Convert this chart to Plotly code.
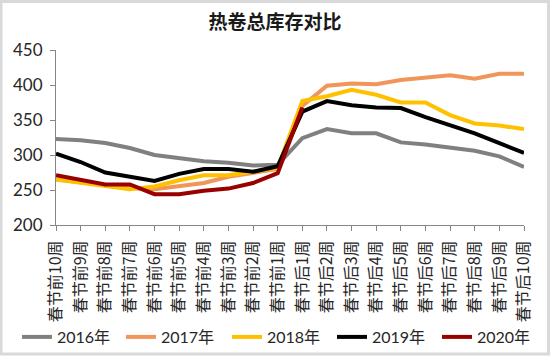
import plotly.graph_objects as go

categories = [f"春节前{i}周" for i in range(10, 0, -1)] + [f"春节后{i}周" for i in range(1, 11)]

s2016 = [323, 321, 317, 310, 300, 295, 291, 289, 285, 286, 324, 337, 331, 331, 318, 315, 310, 306, 298, 283]
s2017 = [265, 261, 257, 253, 251, 256, 260, 269, 275, 280, 370, 399, 402, 401, 407, 410, 414, 409, 416, 416]
s2018 = [265, 260, 256, 251, 255, 264, 271, 271, 276, 282, 377, 384, 393, 386, 375, 375, 357, 345, 342, 337]
s2019 = [302, 290, 275, 269, 263, 273, 280, 280, 276, 284, 362, 377, 371, 368, 367, 354, 343, 331, 317, 303]
s2020 = [271, 264, 258, 258, 244, 244, 249, 252, 260, 274, 368]

series = [
    ("2016年", s2016, "#808080"),
    ("2017年", s2017, "#F0965A"),
    ("2018年", s2018, "#FFC000"),
    ("2019年", s2019, "#000000"),
    ("2020年", s2020, "#990000"),
]

yticks = [200, 250, 300, 350, 400, 450]

FONT = "Lato, Noto Sans CJK SC, sans-serif"
TXT = "#262626"

W, H = 550, 356
L, R, T, B = 56, 26, 50, 131
pw, ph = W - L - R, H - T - B

legend_line_x = [22, 126, 232, 337, 442]
legend_y = 337

fig = go.Figure()
legends = {}
for i, (name, vals, color) in enumerate(series):
    lid = "legend" if i == 0 else f"legend{i + 1}"
    fig.add_trace(go.Scatter(
        x=categories[:len(vals)], y=vals, name=name, mode="lines",
        line=dict(color=color, width=4), legend=lid,
    ))
    legends[lid] = dict(
        orientation="h", xref="container", x=(legend_line_x[i] - 5) / W, xanchor="left",
        yref="container", y=1 - legend_y / H, yanchor="middle",
        font=dict(size=16, family=FONT, color=TXT), bgcolor="rgba(0,0,0,0)",
        borderwidth=0, itemwidth=30,
    )

fig.update_layout(
    width=W, height=H,
    margin=dict(l=L, r=R, t=T, b=B),
    paper_bgcolor="white", plot_bgcolor="white",
    font=dict(family=FONT, color=TXT, size=15),
    title=dict(text="<b>热卷总库存对比</b>", x=0.5, xanchor="center", xref="container",
               y=1 - 22 / H, yanchor="middle", yref="container",
               font=dict(family="Noto Sans CJK SC", size=19, color="#1a1a1a")),
    showlegend=True,
    xaxis=dict(
        type="category", categoryorder="array", categoryarray=categories,
        range=[0, len(categories) - 1], automargin=False,
        showline=True, linecolor="#868686", linewidth=1,
        ticks="outside", ticklen=5, tickcolor="#868686", ticklabelstandoff=3,
        tickangle=-90, tickfont=dict(size=16, family="Noto Sans CJK SC", color=TXT),
        showgrid=False, zeroline=False,
    ),
    yaxis=dict(
        range=[200, 450], tickvals=yticks, ticktext=[str(v) for v in yticks], automargin=False,
        showline=True, linecolor="#868686", linewidth=1,
        ticks="outside", ticklen=5, tickcolor="#868686", ticklabelstandoff=4,
        tickfont=dict(size=17, family=FONT, color=TXT),
        showgrid=False, zeroline=False,
    ),
    shapes=[dict(type="rect", xref="paper", yref="paper",
                 x0=-(L - 1) / pw, x1=1 + (R - 1.5) / pw,
                 y0=-(B - 2) / ph, y1=1 + (T - 1.5) / ph,
                 line=dict(color="#D9D9D9", width=3), fillcolor="rgba(0,0,0,0)", layer="below")],
    **legends,
)

fig.write_html("out.html", config={"displayModeBar": False},
               post_script="document.body.style.margin='0';document.body.style.overflow='hidden';")
